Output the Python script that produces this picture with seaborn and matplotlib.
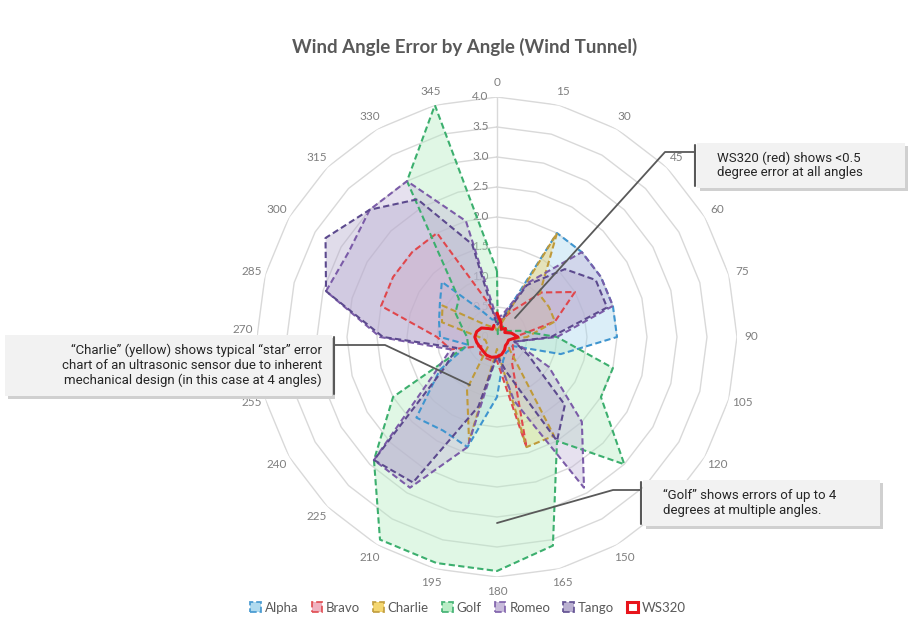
import numpy as np
import matplotlib
matplotlib.use("Agg")
import matplotlib.pyplot as plt
from matplotlib.patches import Patch, Rectangle
from matplotlib.lines import Line2D
import seaborn as sns

# wind angles (deg) and error per sensor (deg)
angles = list(range(0, 360, 15))
alpha_err = [0.3, 0.3, 2.0, 2.0, 2.0, 2.0, 2.0, 1.1, 0.3, 0.3, 0.3, 0.4,
             1.0, 1.9, 1.8, 1.9, 1.1, 0.5, 0.95, 1.0, 1.1, 1.3, 0.5, 0.3]
bravo_err = [0.3, 0.3, 0.5, 1.05, 1.5, 1.0, 0.3, 0.3, 0.3, 0.4, 0.5, 1.9,
             0.4, 0.4, 0.4, 0.4, 0.3, 0.8, 1.0, 2.0, 2.0, 2.0, 2.0, 0.6]
charlie_err = [0.1, 0.2, 2.0, 1.0, 1.0, 1.0, 0.5, 0.2, 0.2, 0.3, 1.9, 1.9,
               0.2, 1.8, 1.0, 0.2, 0.2, 0.2, 0.3, 0.95, 1.05, 0.3, 0.2, 0.2]
golf_err = [1.1, 0.05, 0.2, 0.2, 0.2, 0.4, 1.0, 2.0, 2.0, 3.0, 2.0, 3.6,
            3.9, 3.9, 3.9, 2.9, 2.0, 0.5, 0.5, 0.6, 0.8, 0.9, 3.0, 4.0]
romeo_err = [0.3, 0.4, 1.05, 2.0, 2.0, 2.0, 1.0, 0.3, 1.0, 2.0, 2.9, 1.1,
             0.3, 1.9, 2.9, 2.9, 1.2, 0.8, 1.95, 2.95, 2.85, 3.0, 3.0, 2.0]
tango_err = [0.2, 0.3, 1.0, 1.6, 1.9, 1.9, 0.9, 0.3, 0.6, 1.6, 2.0, 0.6,
             0.3, 1.2, 2.8, 2.9, 1.0, 0.7, 1.9, 2.95, 3.3, 3.0, 2.65, 1.6]
ws320_err = [0.4, 0.25, 0.15, 0.2, 0.15, 0.25, 0.35, 0.2, 0.2, 0.2, 0.25, 0.3,
             0.33, 0.35, 0.35, 0.33, 0.33, 0.35, 0.37, 0.35, 0.3, 0.2, 0.15, 0.2]
ring_levels = [0.5, 1.0, 1.5, 2.0, 2.5, 3.0, 3.5, 4.0]
hidden_labels = [135]  # covered by the Golf callout in the original

series = [
    ("Alpha", alpha_err, "#3F95CF", "#A6D6EE"),
    ("Bravo", bravo_err, "#E0474C", "#EFAABA"),
    ("Charlie", charlie_err, "#BF9A3A", "#F3D261"),
    ("Golf", golf_err, "#3CAF6E", "#B2EBC0"),
    ("Romeo", romeo_err, "#7B5CA8", "#C2B4D8"),
    ("Tango", tango_err, "#5C4A8E", "#B3A8CC"),
]

sns.set_theme(style="white")
plt.rcParams["font.family"] = ["Lato", "DejaVu Sans"]

W, H = 915, 628
fig = plt.figure(figsize=(W / 100, H / 100), dpi=100)


def fx(x):
    return x / W


def fy(y):
    return 1 - y / H


cx, cy, R = 497, 337, 240
ax = fig.add_axes([fx(cx - R), fy(cy + R), 2 * R / W, 2 * R / H], projection="polar")
ax.set_theta_zero_location("N")
ax.set_theta_direction(-1)
ax.set_ylim(0, 4)
ax.grid(False)
ax.set_xticks([])
ax.set_yticks([])
ax.spines["polar"].set_visible(False)
ax.patch.set_alpha(0)

theta = np.deg2rad(angles + [angles[0]])

# polygon gridlines like Excel radar
for lv in ring_levels:
    ax.plot(theta, [lv] * len(theta), color="#D9D9D9", lw=1, zorder=0)
ax.plot([0, 0], [0, 4], color="#D9D9D9", lw=1, zorder=0)

for name, vals, edge, face in series:
    v = vals + [vals[0]]
    ax.fill(theta, v, color=face, alpha=0.4, lw=0, zorder=2)
    ax.plot(theta, v, color=edge, lw=1.5, ls=(0, (3, 1.6)), zorder=3)

ws = ws320_err + [ws320_err[0]]
sns.lineplot(x=theta, y=ws, sort=False, ax=ax, color="#E8141B", lw=2.2, zorder=5)

# angle labels (270 sits just above the Charlie callout)
for a in angles:
    if a in hidden_labels:
        continue
    dy = 8 if a == 270 else 0
    ax.annotate(str(a), xy=(np.deg2rad(a), 4.24), xytext=(0, dy),
                textcoords="offset pixels", ha="center", va="center",
                fontsize=8.5, color="#7F7F7F", annotation_clip=False)

# radial labels
for lv in [0.0] + ring_levels:
    ax.annotate(f"{lv:.1f}", xy=(0, lv), xytext=(-6, 0), textcoords="offset points",
                ha="right", va="center", fontsize=8.5, color="#7F7F7F", zorder=1,
                annotation_clip=False)

fig.text(fx(465), fy(47), "Wind Angle Error by Angle (Wind Tunnel)", ha="center",
         va="center", fontsize=13.5, fontweight="bold", color="#595959")


def callout(x0, y0, x1, y1, text, bar_x, leader, align):
    shadow = Rectangle((fx(x0 + 3), fy(y1 + 3)), (x1 - x0) / W, (y1 - y0) / H,
                       transform=fig.transFigure, facecolor="#D0D0D0", edgecolor="none",
                       zorder=8)
    box = Rectangle((fx(x0), fy(y1)), (x1 - x0) / W, (y1 - y0) / H,
                    transform=fig.transFigure, facecolor="#F2F2F2", edgecolor="none",
                    zorder=9)
    fig.patches.extend([shadow, box])
    fig.lines.append(Line2D([fx(bar_x)] * 2, [fy(y0 + 2), fy(y1 - 2)],
                            transform=fig.transFigure, color="#595959", lw=1.5, zorder=10))
    xs = [fx(p[0]) for p in leader]
    ys = [fy(p[1]) for p in leader]
    fig.lines.append(Line2D(xs, ys, transform=fig.transFigure, color="#595959",
                            lw=1.3, zorder=10))
    if align == "left":
        fig.text(fx(x0 + 20), fy((y0 + y1) / 2), text, ha="left", va="center",
                 fontsize=9.5, color="#262626", zorder=11, linespacing=1.15,
                 family=["Roboto", "DejaVu Sans"])
    else:
        fig.text(fx(x1 - 10), fy((y0 + y1) / 2), text, ha="right", va="center",
                 fontsize=9.5, color="#262626", zorder=11, linespacing=1.15,
                 family=["Roboto", "DejaVu Sans"])


callout(697, 143, 905, 188, "WS320 (red) shows <0.5\ndegree error at all angles",
        695, [(695, 152), (665, 152), (515, 318)], "left")
callout(5, 335, 332, 396,
        "\u201cCharlie\u201d (yellow) shows typical \u201cstar\u201d error\n"
        "chart of an ultrasonic sensor due to inherent\n"
        "mechanical design (in this case at 4 angles)",
        334, [(334, 345), (385, 345), (470, 385)], "right")
callout(643, 480, 880, 526, "\u201cGolf\u201d shows errors of up to 4\ndegrees at multiple angles.",
        641, [(641, 490), (613, 490), (497, 523)], "left")

handles = []
for name, vals, edge, face in series:
    handles.append(Patch(facecolor=face, edgecolor=edge, linestyle="--", lw=1.3,
                         alpha=0.9, label=name))
handles.append(Patch(facecolor="white", edgecolor="#E8141B", lw=2.2, label="WS320"))
fig.legend(handles=handles, loc="center", bbox_to_anchor=(fx(468), fy(608)), ncol=7,
           frameon=False, fontsize=9.5, handlelength=0.8, handleheight=0.8,
           handletextpad=0.3, columnspacing=1.0, labelcolor="#595959")

fig.savefig("out.png", dpi=100)
